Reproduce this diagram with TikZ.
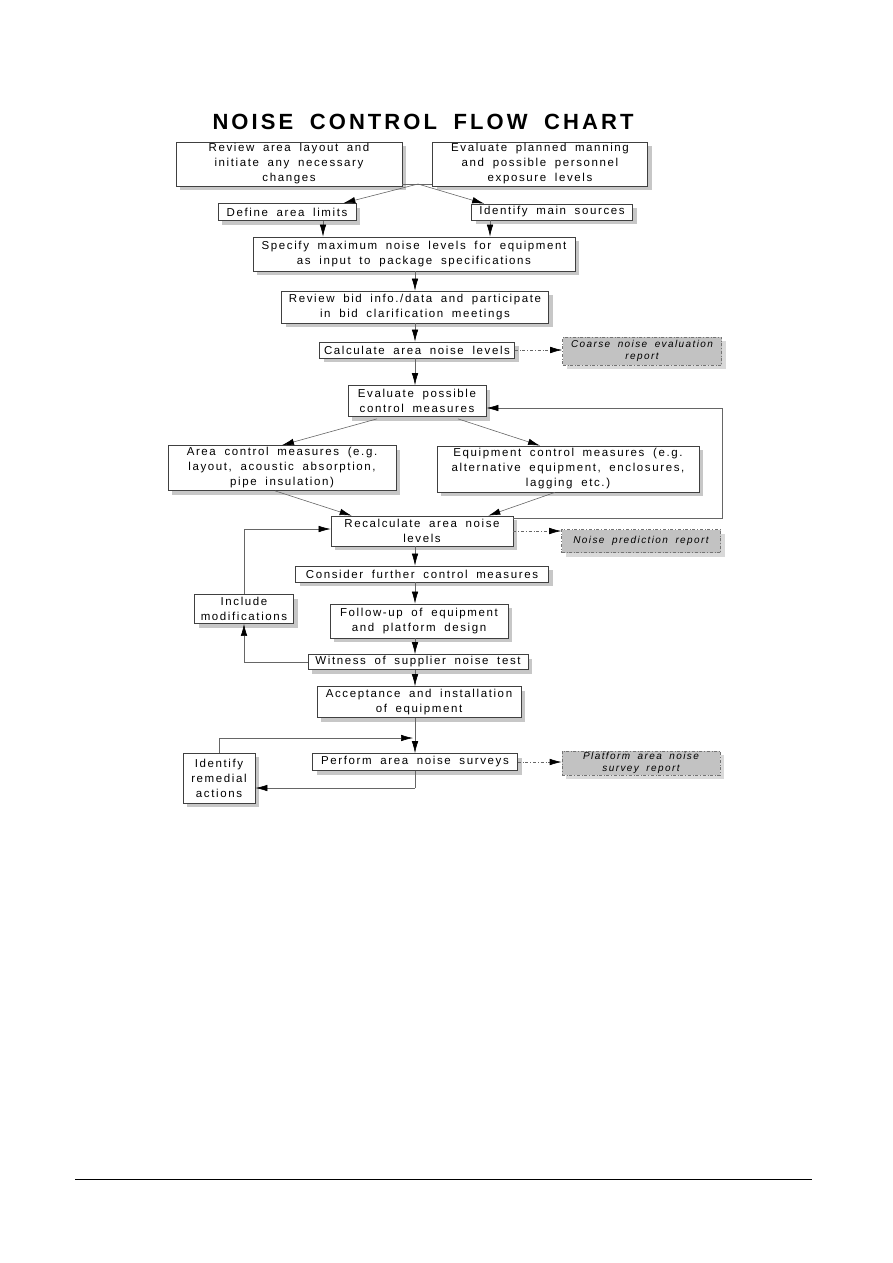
\documentclass[tikz,border=0pt]{standalone}
\usepackage{fontspec}
\setmainfont{Liberation Sans}
\newfontfamily\chartfont[LetterSpace=14,WordSpace=1.7]{Liberation Sans}
\newfontfamily\headfont[LetterSpace=14,WordSpace=1.8]{Liberation Sans}
\usepackage{tikz}
\usetikzlibrary{calc}
\usetikzlibrary{arrows.meta}
\usetikzlibrary{shadows}
\tikzset{
 box/.style={draw=black!75, line width=0.7pt, fill=white, inner sep=0pt, align=center,
  font={\chartfont\fontsize{11.5}{15}\selectfont},
  drop shadow={shadow xshift=4pt, shadow yshift=-4pt, fill=black!22, opacity=1}},
 report/.style={draw=black!55, dash dot, line width=0.6pt, fill=black!24, inner sep=0pt, align=center,
  font={\chartfont\itshape\fontsize{10}{12}\selectfont},
  drop shadow={shadow xshift=4pt, shadow yshift=-4pt, fill=black!15, opacity=1}},
 link/.style={draw=black!60, line width=0.6pt, ->, >={Latex[length=12pt,width=6.5pt,color=black]}},
 replink/.style={link, dash dot},
 plain/.style={draw=black!60, line width=0.6pt}
}

\begin{document}
\begin{tikzpicture}[x=1pt,y=-1pt]
\useasboundingbox (0,0) rectangle (893,1263);
\node (title) at (423,122) {\headfont\bfseries\fontsize{22}{22}\selectfont NOISE CONTROL FLOW CHART};
\node[box, minimum width=226pt, minimum height=44pt] (review) at (289,164) {Review area layout and\\initiate any necessary\\changes};
\node[box, minimum width=215pt, minimum height=44pt] (manning) at (540,164) {Evaluate planned manning\\and possible personnel\\exposure levels};
\node[box, minimum width=138pt, minimum height=17pt] (limits) at (287,212) {Define area limits};
\node[box, minimum width=161pt, minimum height=16pt] (sources) at (552,212) {Identify main sources};
\node[box, minimum width=322pt, minimum height=34pt] (specify) at (414,254) {Specify maximum noise levels for equipment\\as input to package specifications};
\node[box, minimum width=267pt, minimum height=32pt] (bid) at (415,307) {Review bid info./data and participate\\in bid clarification meetings};
\node[box, minimum width=195pt, minimum height=16pt] (calc) at (417,350) {Calculate area noise levels};
\node[report, minimum width=159pt, minimum height=28pt] (coarse) at (642,351) {Coarse noise evaluation\\report};
\node[box, minimum width=138pt, minimum height=31pt] (evalctrl) at (417,401) {Evaluate possible\\control measures};
\node[box, minimum width=228pt, minimum height=45pt] (areactrl) at (282,468) {Area control measures (e.g.\\layout, acoustic absorption,\\pipe insulation)};
\node[box, minimum width=262pt, minimum height=46pt] (equipctrl) at (568,469) {Equipment control measures (e.g.\\alternative equipment, enclosures,\\lagging etc.)};
\node[box, minimum width=182pt, minimum height=30pt] (recalc) at (422,531) {Recalculate area noise\\levels};
\node[report, minimum width=159pt, minimum height=23pt] (predict) at (641,541) {Noise prediction report};
\node[box, minimum width=253pt, minimum height=16pt] (further) at (422,574) {Consider further control measures};
\node[box, minimum width=99pt, minimum height=29pt] (modif) at (244,609) {Include\\modifications};
\node[box, minimum width=178pt, minimum height=34pt] (followup) at (419,621) {Follow-up of equipment\\and platform design};
\node[box, minimum width=220pt, minimum height=15pt] (witness) at (418,662) {Witness of supplier noise test};
\node[box, minimum width=204pt, minimum height=31pt] (accept) at (419,702) {Acceptance and installation\\of equipment};
\node[box, minimum width=205pt, minimum height=17pt] (survey) at (415,762) {Perform area noise surveys};
\node[box, minimum width=72pt, minimum height=50pt] (remedial) at (219,778) {Identify\\remedial\\actions};
\node[report, minimum width=158pt, minimum height=24pt] (platrep) at (641,763) {Platform area noise\\survey report};
\coordinate (spine) at (415,0);
\coordinate (join) at (418,184);
\coordinate (lk) at (323,0);
\coordinate (sk) at (490,0);
\coordinate (fb) at (722,408);
\coordinate (loopin) at (413,738);
\coordinate (back) at (415,788);
\draw[plain] (join -| review.east) -- (join -| manning.west);
\draw[link] (join) -- ($(limits.north east)+(-13,0)$);
\draw[link] (join) -- ($(sources.north west)+(13,0)$);
\draw[link] (limits.south -| lk) -- (specify.north -| lk);
\draw[link] (sources.south -| sk) -- (specify.north -| sk);
\foreach \a/\b in {specify/bid, bid/calc, calc/evalctrl, recalc/further, further/followup, followup/witness, witness/accept, accept/survey}
 \draw[link] (\a.south -| spine) -- (\b.north -| spine);
\draw[link] ($(evalctrl.south)+(-40,2)$) -- (areactrl.north);
\draw[link] ($(evalctrl.south)+(41,2)$) -- ($(equipctrl.north)+(-28,0)$);
\draw[link] ($(areactrl.south)+(-7,0)$) -- ($(recalc.north west)+(21,0)$);
\draw[link] ($(equipctrl.south)+(-13,0)$) -- ($(recalc.north east)+(-25,0)$);
\draw[link] ($(recalc.north east)+(0,3)$) -| (fb) -- (fb -| evalctrl.east);
\draw[replink] (calc.east) -- (calc.east -| coarse.west);
\draw[replink] (recalc.east) -- (recalc.east -| predict.west);
\draw[replink] (survey.east) -- (survey.east -| platrep.west);
\draw[link] (witness.west) -| (modif.south);
\draw[link] (modif.north) |- ($(recalc.west)+(0,-2)$);
\draw[link] (remedial.north) |- (loopin);
\draw[plain] (survey.south -| spine) -- (back);
\draw[link] (back) -- (back -| remedial.east);
\draw[line width=0.8pt] (75,1179) -- (812,1179);
\end{tikzpicture}
\end{document}
